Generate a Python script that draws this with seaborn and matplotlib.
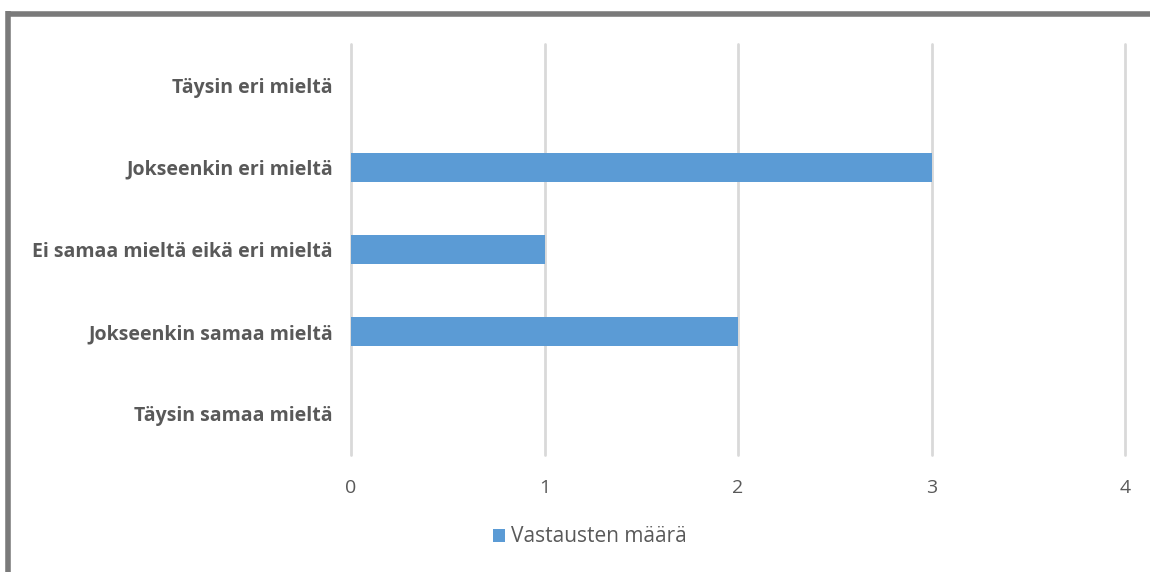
import matplotlib
matplotlib.use("Agg")
import matplotlib.pyplot as plt
import seaborn as sns
import pandas as pd
from matplotlib.patches import Patch
from matplotlib.lines import Line2D

categories = ["Täysin eri mieltä", "Jokseenkin eri mieltä",
              "Ei samaa mieltä eikä eri mieltä", "Jokseenkin samaa mieltä",
              "Täysin samaa mieltä"]
values = [0, 3, 1, 2, 0]
series_name = "Vastausten määrä"
x_ticks = [0, 1, 2, 3, 4]

sns.set_theme(style="white")
plt.rcParams['font.family'] = ['Open Sans', 'DejaVu Sans']

BAR = "#5B9BD5"
TXT = "#595959"
GRID = "#D9D9D9"

df = pd.DataFrame({"cat": categories, "val": values})

fig = plt.figure(figsize=(11.5, 5.72), dpi=100)
ax = fig.add_axes([351/1150, 1-455/572, (1125-351)/1150, (455-44)/572])

sns.barplot(data=df, y="cat", x="val", orient="h", color=BAR, width=0.36,
            saturation=1, linewidth=0, edgecolor="none", ax=ax, zorder=3)

ax.set_xlim(0, 4)
ax.set_xticks(x_ticks)
ax.set_xticklabels([str(t) for t in x_ticks])
ax.set_ylim(4.5, -0.5)
ax.set_xlabel("")
ax.set_ylabel("")
ax.grid(axis="x", color=GRID, linewidth=2, zorder=0)
for gl in ax.get_xgridlines():
    gl.set_clip_on(False)
ax.set_axisbelow(True)
for s in ax.spines.values():
    s.set_visible(False)
ax.tick_params(axis="x", length=0, pad=17, labelsize=14, labelcolor=TXT)
ax.tick_params(axis="y", length=0, pad=13, labelsize=14, labelcolor=TXT)
for lab in ax.get_yticklabels():
    lab.set_fontweight("bold")

handle = Patch(facecolor=BAR, edgecolor="none")
fig.legend([handle], [series_name], loc="center", bbox_to_anchor=(590/1150, 1-537/572),
           frameon=False, fontsize=15, labelcolor=TXT, handlelength=0.6,
           handleheight=0.6, handletextpad=0.3)

# outer frame (left and top edges visible)
fig.add_artist(Line2D([7.5/1150, 7.5/1150], [0, 1-11/572], transform=fig.transFigure,
                      color="#7A7A7A", linewidth=4, solid_capstyle="butt"))
fig.add_artist(Line2D([5.5/1150, 1], [1-13.5/572, 1-13.5/572], transform=fig.transFigure,
                      color="#7A7A7A", linewidth=4, solid_capstyle="butt"))

fig.savefig("out.png", dpi=100, facecolor="white")
